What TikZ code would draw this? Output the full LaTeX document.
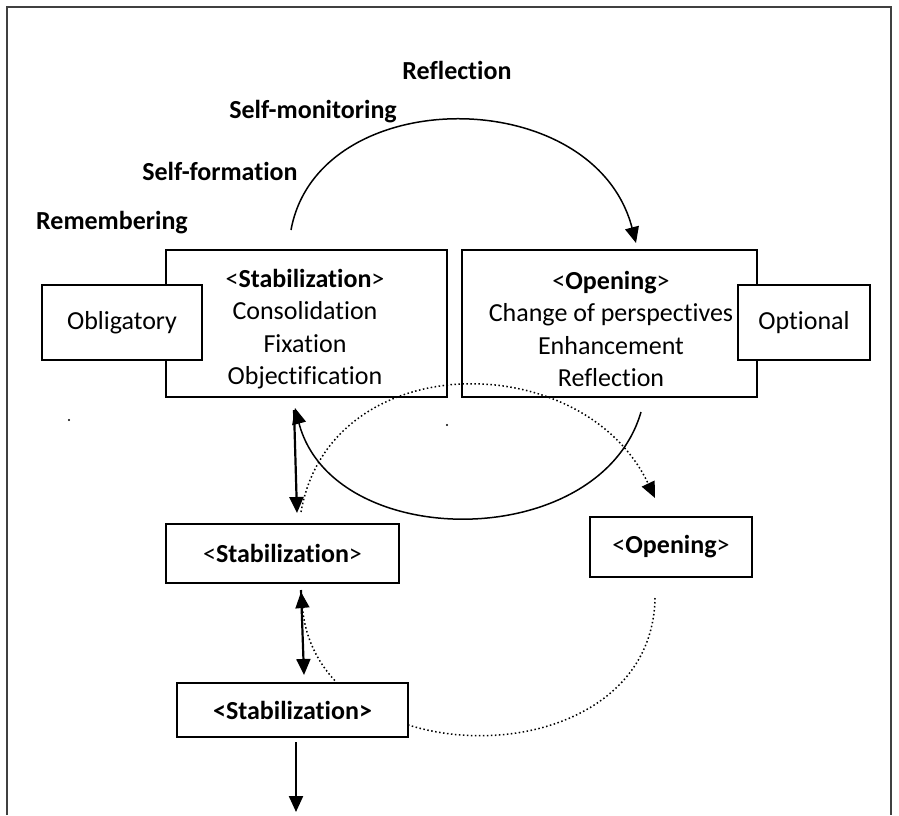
\documentclass[tikz,border=0pt]{standalone}
\usepackage{fontspec}
\setmainfont{Carlito}[Ligatures=NoCommon]
\usetikzlibrary{arrows.meta}
\begin{document}
\begin{tikzpicture}[x=1pt,y=-1pt,
  box/.style={draw,line width=1.5pt,inner sep=0pt,align=center,font=\fontsize{26}{32}\selectfont},
  wbox/.style={box,fill=white},
  txt/.style={inner sep=0pt,align=center,font=\fontsize{26}{32.5}\selectfont},
  lbl/.style={font=\fontsize{26}{32}\selectfont\bfseries,inner sep=0pt},
  tip/.style={-{Triangle[length=16pt,width=14pt]}},
  solidarrow/.style={tip,line width=2.2pt},
  curvearrow/.style={tip,line width=1.5pt},
  dottedarrow/.style={tip,line width=1.5pt,dash pattern=on 1.5pt off 2.5pt},
  frame/.style={line width=1.5pt,black!75}]
\useasboundingbox (0,0) rectangle (899,815);
\draw[frame] (7,815) -- (7,7) -- (891,7) -- (891,815);

% labels
\node[lbl] (refl) at (457,70) {Reflection};
\node[lbl] (selfmon) at (313,112) {Self-monitoring};
\node[lbl] (selfform) at (220,171) {Self-formation};
\node[lbl] (remem) at (112,223) {Remembering};

% main boxes
\node[box,minimum width=281pt,minimum height=147pt] (stab1) at (306.5,323.5) {};
\node[txt] (stab1t) at (305,329)
  {<\textbf{Stabilization}>\\Consolidation\\Fixation\\Objectification};
\node[box,minimum width=295pt,minimum height=147pt] (open1) at (609.5,323.5) {};
\node[txt] (open1t) at (611,329)
  {<\textbf{Opening}>\\Change of perspectives\\Enhancement\\Reflection};
\node[wbox,minimum width=160pt,minimum height=75pt] (oblig) at (122,322.5) {Obligatory};
\node[wbox,minimum width=132pt,minimum height=75pt] (opt) at (804,322.5) {Optional};

\node[box,minimum width=233pt,minimum height=59pt] (stab2) at (282.5,553.5) {<\textbf{Stabilization}>};
\node[box,minimum width=162pt,minimum height=60pt] (open2) at (671,547) {<\textbf{Opening}>};

% connector end points
\coordinate (a1) at (291,230);
\coordinate (a2) at (636,243);
\coordinate (b1) at (641,412);
\coordinate (b2) at (295,408);
\coordinate (c1) at (294,410);
\coordinate (c2) at (297,513);
\coordinate (d1) at (301,512);
\coordinate (d2) at (655,498);
\coordinate (e1) at (655,598);
\coordinate (e2) at (301,592);
\coordinate (f1) at (301,590);
\coordinate (f2) at (304,675);
\coordinate (g1) at (296,742);
\coordinate (g2) at (296,812);

% top arc
\draw[curvearrow] (a1) .. controls (318,82) and (594,82) .. (a2);
% lower solid arc
\draw[curvearrow] (b1) .. controls (600,553) and (333,553) .. (b2);
% straight arrow
\draw[solidarrow] (c1) -- (c2);
% dotted upper arc
\draw[dottedarrow] (d1) .. controls (330,346) and (583,346) .. (d2);
% dotted lower arc
\draw[dottedarrow] (e1) .. controls (652,780) and (318,780) .. (e2);
\draw[solidarrow] (f1) -- (f2);

\node[wbox,minimum width=231pt,minimum height=54pt] (stab3) at (292.5,710) {\textbf{<Stabilization>}};
\draw[solidarrow] (g1) -- (g2);

% stray dots
\fill (69,420) circle (1.1pt);
\fill (447,425) circle (1.1pt);
\end{tikzpicture}
\end{document}
